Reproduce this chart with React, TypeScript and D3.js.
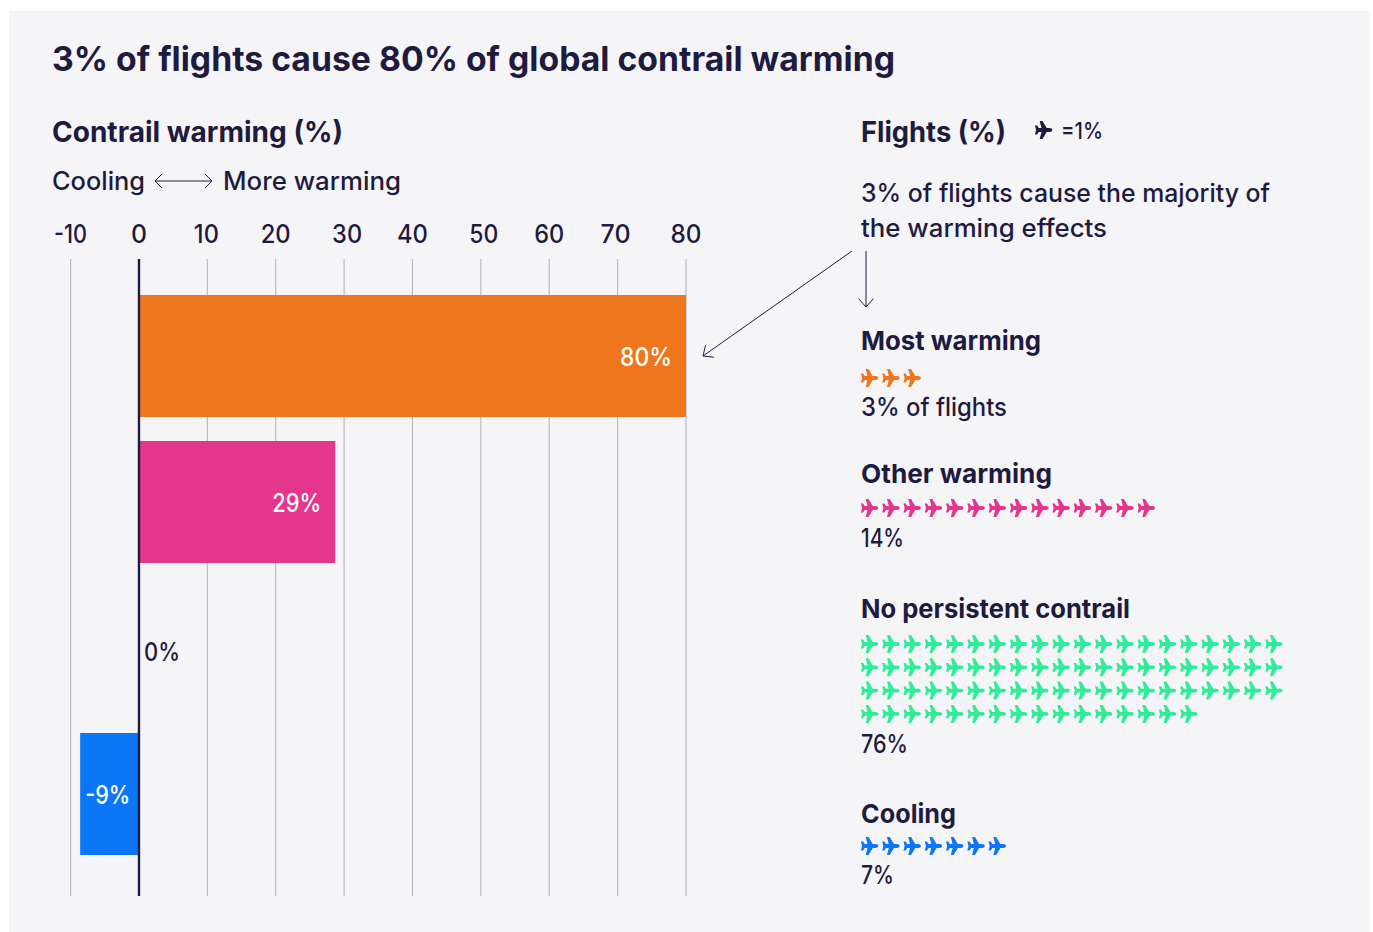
import React from "react";
import * as d3 from "d3";

const ink = "#1e1b3f";
const categories = ["Most warming", "Other warming", "No persistent contrail", "Cooling"];
const warmingValues = [80, 28.7, 0, -8.6];
const warmingLabels = ["80%", "29%", "0%", "-9%"];
const flightCounts = [3, 14, 76, 7];
const flightLabels = ["3% of flights", "14%", "76%", "7%"];
const colors = ["#ef761d", "#e3368c", "#2fec98", "#0b76f7"];
const ticks = [-10, 0, 10, 20, 30, 40, 50, 60, 70, 80];
const tickNudge = [0, 0, -1, 0, 3, 0, 3, 0, -2, 0];
const tickWidths = [33, 16, 25, 30, 30, 31, 29, 30, 30, 31];
const rowTops = [378, 508, 644, 846];
const headTops = [341, 474, 609, 814];
const headWidths = [180, 191, 269, 95];
const noteTops = [407, 538, 744, 875];
const noteWidths = [146, 43, 47, 33];
const barLabelWidths = [52, 49, 36, 45];

const x = d3.scaleLinear().domain([-10, 80]).range([70.6, 686]);
const y = d3.scaleBand<string>().domain(categories).range([283, 867]).paddingInner(24 / 146).paddingOuter(12 / 146);
const PLANE = "M8.8 0C8.8 -1.2 7.6 -1.9 6.2 -1.9L3.2 -1.9L-1 -9L-3.8 -9L-2 -1.9L-4.8 -1.9L-6.4 -4.4L-8.6 -4.4L-7.4 0L-8.6 4.4L-6.4 4.4L-4.8 1.9L-2 1.9L-3.8 9L-1 9L3.2 1.9L6.2 1.9C7.6 1.9 8.8 1.2 8.8 0Z";

const T = ({ x, y, w, size, weight = 500, fill = ink, anchor = "start", children }: any) => (
  <text x={x} y={y + 3} fontSize={size} fontWeight={weight} fill={fill} textAnchor={anchor} dominantBaseline="middle"
    textLength={w} lengthAdjust="spacingAndGlyphs" fontFamily="Inter, sans-serif">{children}</text>
);

const Arrow = ({ x1, y1, x2, y2, w = 1 }: any) => {
  const a = Math.atan2(y2 - y1, x2 - x1);
  const l = 11;
  const p = (d: number) => `M${x2 + l * Math.cos(a + d)} ${y2 + l * Math.sin(a + d)}L${x2} ${y2}`;
  return <path d={`M${x1} ${y1}L${x2} ${y2}${p(Math.PI * 0.77)}${p(-Math.PI * 0.77)}`} fill="none" stroke={ink} strokeWidth={w} />;
};

export default function App() {
  return (
    <svg width={1373} height={932} style={{ position: "absolute", left: 0, top: 0 }}>
      <rect x={9} y={11} width={1361} height={921} fill="#f5f5f8" />
      <T x={52} y={59} size={33.5} weight={700} w={843}>3% of flights cause 80% of global contrail warming</T>
      <T x={52} y={131.5} size={28} weight={700} w={291}>Contrail warming (%)</T>
      <T x={861} y={131.5} size={28} weight={700} w={145}>Flights (%)</T>
      <path d={PLANE} fill={ink} transform="translate(1043.5,130)" />
      <T x={1061} y={129.5} size={23} w={42}>=1%</T>
      <T x={52} y={180.5} size={25.5} w={93}>Cooling</T>
      <path d="M155 181H212M162 174L155 181L162 188M205 174L212 181L205 188" fill="none" stroke={ink} strokeWidth={1} />
      <T x={223} y={180.5} size={25.5} w={178}>More warming</T>
      <T x={861} y={192.5} size={25.5} w={409}>3% of flights cause the majority of</T>
      <T x={861} y={227.5} size={25.5} w={246}>the warming effects</T>
      <Arrow x1={852} y1={251} x2={703} y2={356} />
      <Arrow x1={866} y1={251} x2={866} y2={307} />

      {ticks.map((t, i) => (
        <g key={t}>
          <line x1={x(t)} x2={x(t)} y1={259} y2={896} stroke="#b9bac4" strokeWidth={1.2} />
          <T x={x(t) + tickNudge[i] - tickWidths[i] / 2} y={233.5} size={25} w={tickWidths[i]}>{t}</T>
        </g>
      ))}
      {categories.map((c, i) => {
        const v = warmingValues[i];
        const bx = x(Math.min(v, 0));
        const bw = Math.abs(x(v) - x(0));
        const yy = y(c)! + y.bandwidth() / 2;
        const zero = v === 0;
        const lx = zero ? x(0) + 5 : v < 0 ? bx + 5 : x(v) - 14 - barLabelWidths[i];
        return (
          <g key={c}>
            <rect x={bx} y={y(c)} width={bw} height={y.bandwidth()} fill={colors[i]} />
            <T x={lx} y={yy + (zero ? 3.5 : v < 0 ? 0.5 : 0)} size={25} w={barLabelWidths[i]}
              fill={zero ? ink : "#ffffff"}>{warmingLabels[i]}</T>
          </g>
        );
      })}
      <line x1={x(0)} x2={x(0)} y1={259} y2={896} stroke={ink} strokeWidth={2.4} />

      {categories.map((c, i) => (
        <g key={c}>
          <T x={861} y={headTops[i] - 1} size={26} weight={700} w={headWidths[i]}>{c}</T>
          <T x={861} y={noteTops[i] - 1} size={25} w={noteWidths[i]}>{flightLabels[i]}</T>
          {d3.range(flightCounts[i]).map((k) => {
            const col = k % 20;
            const row = Math.floor(k / 20);
            return <path key={k} d={PLANE} fill={colors[i]}
              transform={`translate(${869.5 + col * 21.28},${rowTops[i] + row * 23.3})`} />;
          })}
        </g>
      ))}
    </svg>
  );
}
